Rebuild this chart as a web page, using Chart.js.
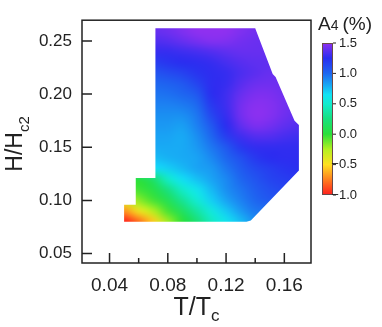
<!DOCTYPE html>
<html>
<head>
<meta charset="utf-8">
<script src="https://cdn.jsdelivr.net/npm/chart.js@4.4.0/dist/chart.umd.min.js"></script>
<style>
  html, body { margin: 0; padding: 0; background: #fff; }
</style>
</head>
<body>
<canvas id="graph1" width="382" height="327"></canvas>
<script>
// Grid of the measurement (T/Tc columns, H/Hc2 rows from top to bottom)
const tValues = [0.05, 0.06, 0.07, 0.08, 0.09, 0.10, 0.11, 0.12, 0.13, 0.14, 0.15, 0.16, 0.17];
const hValues = [0.26, 0.25, 0.24, 0.23, 0.22, 0.21, 0.20, 0.19, 0.18, 0.17, 0.16, 0.15, 0.14, 0.13, 0.12, 0.11, 0.10, 0.09, 0.08];
const n = null;
// A4 (%), one row per H value
const a4 = [
  [n, n, 1.40, 1.42, 1.46, 1.50, 1.52, 1.50, 1.46, 1.43, 1.42, n, n],
  [n, n, 1.34, 1.36, 1.40, 1.44, 1.47, 1.46, 1.43, 1.41, 1.40, n, n],
  [n, n, 1.28, 1.28, 1.30, 1.32, 1.35, 1.38, 1.40, 1.40, 1.40, n, n],
  [n, n, 1.18, 1.22, 1.25, 1.26, 1.28, 1.32, 1.36, 1.38, 1.38, n, n],
  [n, n, 1.08, 1.12, 1.16, 1.22, 1.26, 1.28, 1.33, 1.37, 1.40, 1.40, n],
  [n, n, 1.00, 1.02, 1.06, 1.15, 1.26, 1.28, 1.36, 1.41, 1.42, 1.41, n],
  [n, n, 0.96, 0.97, 1.00, 1.06, 1.25, 1.30, 1.40, 1.45, 1.45, 1.42, n],
  [n, n, 0.92, 0.92, 0.94, 0.99, 1.20, 1.30, 1.43, 1.48, 1.47, 1.43, 1.40],
  [n, n, 0.88, 0.88, 0.88, 0.95, 1.14, 1.28, 1.43, 1.49, 1.47, 1.42, 1.38],
  [n, n, 0.85, 0.85, 0.83, 0.92, 1.06, 1.25, 1.38, 1.45, 1.43, 1.38, 1.35],
  [n, n, 0.82, 0.82, 0.80, 0.88, 1.00, 1.18, 1.30, 1.35, 1.35, 1.32, 1.30],
  [n, n, 0.80, 0.80, 0.80, 0.85, 0.95, 1.06, 1.20, 1.27, 1.27, 1.27, 1.27],
  [n, n, 0.75, 0.78, 0.80, 0.82, 0.90, 1.00, 1.10, 1.20, 1.25, 1.26, 1.26],
  [n, n, 0.66, 0.70, 0.76, 0.82, 0.85, 0.95, 1.05, 1.13, 1.18, 1.22, 1.24],
  [0.00, 0.02, 0.18, 0.48, 0.66, 0.74, 0.82, 0.90, 1.00, 1.08, 1.15, 1.18, 1.20],
  [-0.12, -0.04, 0.05, 0.26, 0.48, 0.62, 0.76, 0.88, 0.96, 1.04, 1.10, 1.14, n],
  [-0.40, -0.18, -0.05, 0.10, 0.32, 0.52, 0.70, 0.82, 0.92, 1.00, 1.06, n, n],
  [-0.70, -0.45, -0.25, -0.05, 0.14, 0.36, 0.56, 0.72, 0.85, 0.95, n, n, n],
  [-1.00, -0.80, -0.55, -0.22, 0.00, 0.22, 0.46, 0.62, 0.75, 0.88, n, n, n],
];
// outline of the measured region
const edgeT = [0.0715, 0.140, 0.152, 0.154, 0.167, 0.170, 0.170, 0.137, 0.134, 0.050, 0.050, 0.058, 0.058, 0.0715];
const edgeH = [0.262, 0.262, 0.219, 0.216, 0.175, 0.171, 0.128, 0.081, 0.080, 0.080, 0.096, 0.096, 0.121, 0.121];

// Ticks
const xMajor = [0.04, 0.08, 0.12, 0.16];
const xMinor = [0.06, 0.10, 0.14];
const yMajor = [0.05, 0.10, 0.15, 0.20, 0.25];
const barTicks = [1.5, 1.0, 0.5, 0.0, -0.5, -1.0];

// Colour scale
const barStops = [-1.0, -0.8, -0.5, -0.25, 0.0, 0.25, 0.5, 0.65, 0.8, 1.0, 1.25, 1.5];
const barColors = ["#ff1e1e", "#ff6a1e", "#ffe020", "#b4f020", "#2ae03a", "#18e07e", "#12eccf", "#12e2f4", "#18aaf4", "#1e66f0", "#2a2df0", "#9030f0"];

const font = "'Liberation Sans', Arial, sans-serif";
const ink = "#222";

function hexRgb(h) {
  return [parseInt(h.slice(1, 3), 16), parseInt(h.slice(3, 5), 16), parseInt(h.slice(5, 7), 16)];
}
const barRgb = barColors.map(hexRgb);

function colorFor(v) {
  if (v <= barStops[0]) return barRgb[0];
  for (let i = 1; i < barStops.length; i++) {
    if (v <= barStops[i]) {
      const f = (v - barStops[i - 1]) / (barStops[i] - barStops[i - 1]);
      const a = barRgb[i - 1], b = barRgb[i];
      return [0, 1, 2].map(k => Math.round(a[k] + (b[k] - a[k]) * f));
    }
  }
  return barRgb[barRgb.length - 1];
}

// nearest filled value in the same row, only used to pad the image outside the clip
function padded(r, c) {
  const row = a4[r];
  if (row[c] !== null) return row[c];
  for (let d = 1; d < row.length; d++) {
    if (c - d >= 0 && row[c - d] !== null) return row[c - d];
    if (c + d < row.length && row[c + d] !== null) return row[c + d];
  }
  return 0;
}

const heatmap = {
  id: "heatmap",
  beforeDatasetsDraw(chart) {
    const { ctx, scales: { x, y } } = chart;
    const nT = tValues.length, nH = hValues.length;
    const off = document.createElement("canvas");
    off.width = nT;
    off.height = nH;
    const octx = off.getContext("2d");
    const img = octx.createImageData(nT, nH);
    for (let r = 0; r < nH; r++) {
      for (let c = 0; c < nT; c++) {
        const rgb = colorFor(padded(r, c));
        const i = (r * nT + c) * 4;
        img.data[i] = rgb[0];
        img.data[i + 1] = rgb[1];
        img.data[i + 2] = rgb[2];
        img.data[i + 3] = 255;
      }
    }
    octx.putImageData(img, 0, 0);

    const dT = tValues[1] - tValues[0];
    const dH = hValues[0] - hValues[1];
    const x0 = x.getPixelForValue(tValues[0] - dT / 2);
    const x1 = x.getPixelForValue(tValues[nT - 1] + dT / 2);
    const y0 = y.getPixelForValue(hValues[0] + dH / 2);
    const y1 = y.getPixelForValue(hValues[nH - 1] - dH / 2);

    ctx.save();
    ctx.beginPath();
    edgeT.forEach((t, i) => {
      const px = x.getPixelForValue(t), py = y.getPixelForValue(edgeH[i]);
      if (i === 0) ctx.moveTo(px, py); else ctx.lineTo(px, py);
    });
    ctx.closePath();
    ctx.clip();
    ctx.imageSmoothingEnabled = true;
    ctx.imageSmoothingQuality = "high";
    ctx.drawImage(off, x0, y0, x1 - x0, y1 - y0);
    ctx.restore();
  },
};

function subText(ctx, parts, x, y) {
  // parts: [text, size, dy]
  let w = 0;
  parts.forEach(p => { ctx.font = p[1] + "px " + font; w += ctx.measureText(p[0]).width; });
  let cx = x - w / 2;
  parts.forEach(p => {
    ctx.font = p[1] + "px " + font;
    ctx.fillText(p[0], cx, y + p[2]);
    cx += ctx.measureText(p[0]).width;
  });
}

const frame = {
  id: "frame",
  afterDraw(chart) {
    const { ctx, chartArea: a, scales: { x, y } } = chart;
    ctx.save();
    ctx.strokeStyle = ink;
    ctx.lineWidth = 1.5;
    ctx.strokeRect(a.left, a.top, a.right - a.left, a.bottom - a.top);
    ctx.beginPath();
    xMajor.forEach(v => { const px = x.getPixelForValue(v); ctx.moveTo(px, a.bottom); ctx.lineTo(px, a.bottom - 10); });
    xMinor.forEach(v => { const px = x.getPixelForValue(v); ctx.moveTo(px, a.bottom); ctx.lineTo(px, a.bottom - 5); });
    yMajor.forEach(v => { const py = y.getPixelForValue(v); ctx.moveTo(a.left, py); ctx.lineTo(a.left + 10, py); });
    ctx.stroke();

    // axis titles with subscripts
    ctx.fillStyle = ink;
    ctx.textBaseline = "alphabetic";
    ctx.textAlign = "left";
    subText(ctx, [["T/T", 25, 0], ["c", 17, 6]], (a.left + a.right) / 2, 315);
    ctx.save();
    ctx.translate(22, 144);
    ctx.rotate(-Math.PI / 2);
    subText(ctx, [["H/H", 23, 0], ["c2", 15, 7]], 0, 0);
    ctx.restore();

    // colour bar
    const bx = 322, bw = 11, bTop = 43, bBot = 195;
    const vTop = barStops[barStops.length - 1], vBot = barStops[0];
    const grad = ctx.createLinearGradient(0, bBot, 0, bTop);
    barStops.forEach((s, i) => grad.addColorStop((s - vBot) / (vTop - vBot), barColors[i]));
    ctx.fillStyle = grad;
    ctx.fillRect(bx, bTop, bw, bBot - bTop);
    ctx.strokeStyle = "#6a4a4a";
    ctx.lineWidth = 1;
    ctx.strokeRect(bx + 0.5, bTop + 0.5, bw - 1, bBot - bTop - 1);
    ctx.strokeStyle = ink;
    ctx.fillStyle = ink;
    ctx.font = "13px " + font;
    ctx.textAlign = "right";
    ctx.textBaseline = "middle";
    barTicks.forEach(v => {
      const py = bBot - (v - vBot) / (vTop - vBot) * (bBot - bTop);
      ctx.beginPath();
      ctx.moveTo(bx + bw, py);
      ctx.lineTo(bx + bw + 3, py);
      ctx.stroke();
      const s = v < 0 ? "\u2212" + Math.abs(v).toFixed(1) : v.toFixed(1);
      ctx.fillText(s, 357, py);
    });
    ctx.textAlign = "left";
    ctx.textBaseline = "alphabetic";
    ctx.font = "19px " + font;
    ctx.fillText("A", 318, 30);
    let ax = 318 + ctx.measureText("A").width;
    ctx.font = "14px " + font;
    ctx.fillText("4", ax, 30);
    ax += ctx.measureText("4").width + 4;
    ctx.font = "19px " + font;
    ctx.fillText("(%)", ax, 30);
    ctx.restore();
  },
};

const points = [];
hValues.forEach((h, r) => tValues.forEach((t, c) => {
  if (a4[r][c] !== null) points.push({ x: t, y: h, v: a4[r][c] });
}));

new Chart(document.getElementById("graph1"), {
  type: "scatter",
  data: { datasets: [{ label: "A4", data: points, pointRadius: 0 }] },
  options: {
    responsive: false,
    animation: false,
    devicePixelRatio: 1,
    layout: { padding: { top: 13, right: 71, left: 0, bottom: 0 } },
    plugins: { legend: { display: false }, tooltip: { enabled: false } },
    scales: {
      x: {
        type: "linear",
        min: 0.0211,
        max: 0.1783,
        afterBuildTicks: s => { s.ticks = xMajor.map(v => ({ value: v })); },
        afterFit: s => { s.height = 64; },
        grid: { display: false, drawTicks: false },
        border: { display: false },
        ticks: { callback: v => v.toFixed(2), color: ink, padding: 11, maxRotation: 0, autoSkip: false, font: { family: font, size: 19 } },
      },
      y: {
        type: "linear",
        min: 0.0411,
        max: 0.2695,
        afterBuildTicks: s => { s.ticks = yMajor.map(v => ({ value: v })); },
        afterFit: s => { s.width = 82; },
        grid: { display: false, drawTicks: false },
        border: { display: false },
        ticks: { callback: v => v.toFixed(2), color: ink, padding: 10, autoSkip: false, font: { family: font, size: 17 } },
      },
    },
  },
  plugins: [heatmap, frame],
});
</script>
</body>
</html>
